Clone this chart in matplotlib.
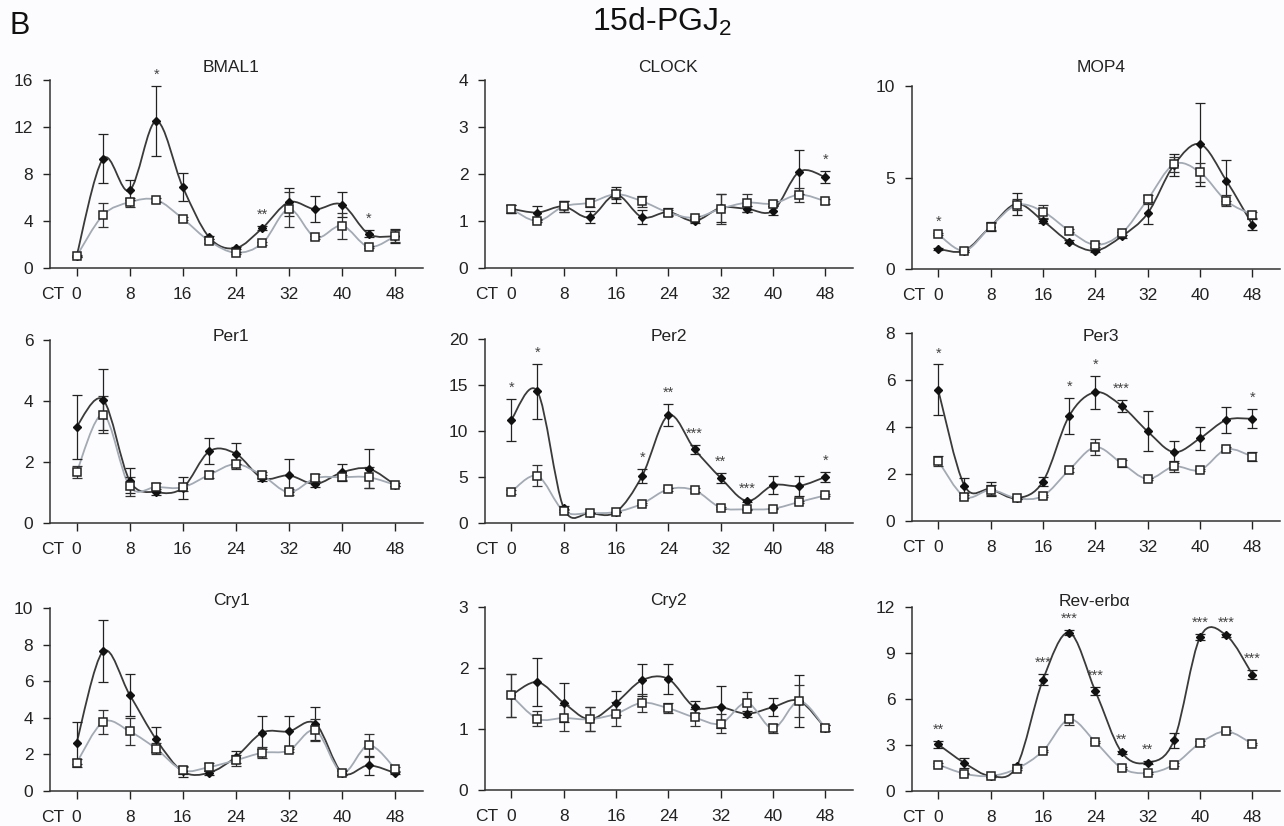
import matplotlib
matplotlib.use("Agg")
import matplotlib.pyplot as plt
from matplotlib.path import Path
from matplotlib.patches import PathPatch

plt.rcParams['font.family'] = ['Liberation Sans', 'DejaVu Sans']
plt.rcParams['mathtext.default'] = 'regular'

ct = [0, 4, 8, 12, 16, 20, 24, 28, 32, 36, 40, 44, 48]

# filled diamonds = 15d-PGJ2, open squares = vehicle
bmal1_pgj = [1.0, 9.3, 6.6, 12.5, 6.9, 2.6, 1.7, 3.4, 5.6, 5.0, 5.4, 2.9, 2.7]
bmal1_pgj_err = [0.1, 2.1, 0.85, 3.0, 1.2, 0.15, 0.1, 0.15, 1.2, 1.1, 1.1, 0.3, 0.6]
bmal1_veh = [1.0, 4.5, 5.6, 5.8, 4.2, 2.3, 1.3, 2.1, 5.0, 2.6, 3.6, 1.8, 2.7]
bmal1_veh_err = [0.05, 1.05, 0.4, 0.2, 0.1, 0.15, 0.1, 0.1, 1.5, 0.1, 1.1, 0.1, 0.5]
bmal1_stars = [(12, '*'), (28, '**'), (44, '*')]

clock_pgj = [1.26, 1.18, 1.31, 1.08, 1.56, 1.08, 1.19, 1.0, 1.28, 1.26, 1.22, 2.05, 1.93]
clock_pgj_err = [0.08, 0.13, 0.12, 0.13, 0.17, 0.15, 0.08, 0.05, 0.3, 0.06, 0.1, 0.47, 0.13]
clock_veh = [1.26, 1.0, 1.31, 1.39, 1.57, 1.42, 1.18, 1.07, 1.26, 1.39, 1.37, 1.56, 1.42]
clock_veh_err = [0.08, 0.03, 0.12, 0.1, 0.1, 0.12, 0.05, 0.03, 0.32, 0.19, 0.05, 0.15, 0.05]
clock_stars = [(48, '*')]

mop4_pgj = [1.1, 1.0, 2.32, 3.56, 2.63, 1.5, 1.0, 1.78, 3.05, 5.68, 6.82, 4.83, 2.41]
mop4_pgj_err = [0.05, 0.05, 0.25, 0.6, 0.1, 0.08, 0.05, 0.1, 0.6, 0.6, 2.27, 1.1, 0.3]
mop4_veh = [1.9, 1.0, 2.32, 3.5, 3.14, 2.09, 1.32, 1.94, 3.81, 5.72, 5.28, 3.72, 2.96]
mop4_veh_err = [0.05, 0.05, 0.2, 0.3, 0.35, 0.08, 0.1, 0.1, 0.25, 0.4, 0.5, 0.3, 0.15]
mop4_stars = [(0, '*')]

per1_pgj = [3.16, 4.04, 1.39, 1.01, 1.15, 2.35, 2.27, 1.47, 1.56, 1.28, 1.66, 1.78, 1.25]
per1_pgj_err = [1.05, 1.0, 0.4, 0.1, 0.35, 0.43, 0.35, 0.1, 0.53, 0.1, 0.28, 0.64, 0.05]
per1_veh = [1.66, 3.55, 1.2, 1.18, 1.17, 1.58, 1.93, 1.56, 1.01, 1.47, 1.5, 1.5, 1.25]
per1_veh_err = [0.2, 0.6, 0.3, 0.12, 0.12, 0.12, 0.15, 0.1, 0.1, 0.15, 0.08, 0.35, 0.05]
per1_stars = []

per2_pgj = [11.2, 14.3, 1.67, 1.09, 1.2, 5.12, 11.7, 8.02, 4.9, 2.4, 4.1, 4.03, 5.01]
per2_pgj_err = [2.3, 3.0, 0.2, 0.05, 0.05, 0.8, 1.2, 0.5, 0.55, 0.1, 1.0, 1.1, 0.5]
per2_veh = [3.38, 5.12, 1.31, 1.09, 1.2, 2.1, 3.67, 3.56, 1.67, 1.49, 1.56, 2.29, 3.01]
per2_veh_err = [0.2, 1.15, 0.1, 0.05, 0.05, 0.1, 0.15, 0.2, 0.1, 0.05, 0.05, 0.1, 0.1]
per2_stars = [(0, '*'), (4, '*'), (20, '*'), (24, '**'), (28, '***'),
              (32, '**'), (36, '***'), (48, '*')]

per3_pgj = [5.58, 1.51, 1.35, 0.97, 1.68, 4.47, 5.48, 4.9, 3.81, 2.93, 3.52, 4.3, 4.35]
per3_pgj_err = [1.08, 0.3, 0.3, 0.05, 0.2, 0.76, 0.7, 0.25, 0.85, 0.48, 0.5, 0.57, 0.4]
per3_veh = [2.56, 1.04, 1.32, 0.97, 1.07, 2.17, 3.14, 2.46, 1.79, 2.32, 2.17, 3.05, 2.74]
per3_veh_err = [0.2, 0.05, 0.2, 0.05, 0.05, 0.1, 0.35, 0.15, 0.05, 0.25, 0.05, 0.08, 0.2]
per3_stars = [(0, '*'), (20, '*'), (24, '*'), (28, '***'), (48, '*')]

cry1_pgj = [2.62, 7.63, 5.26, 2.82, 1.07, 1.0, 1.86, 3.19, 3.26, 3.68, 1.0, 1.4, 0.98]
cry1_pgj_err = [1.15, 1.7, 1.15, 0.67, 0.3, 0.1, 0.33, 0.9, 0.84, 0.9, 0.1, 0.5, 0.05]
cry1_veh = [1.53, 3.77, 3.26, 2.31, 1.13, 1.31, 1.68, 2.09, 2.22, 3.31, 1.0, 2.5, 1.22]
cry1_veh_err = [0.2, 0.64, 0.75, 0.3, 0.2, 0.2, 0.3, 0.3, 0.1, 0.6, 0.15, 0.63, 0.1]
cry1_stars = []

cry2_pgj = [1.55, 1.77, 1.43, 1.16, 1.43, 1.8, 1.82, 1.36, 1.36, 1.25, 1.36, 1.46, 1.01]
cry2_pgj_err = [0.35, 0.4, 0.32, 0.2, 0.2, 0.26, 0.25, 0.1, 0.34, 0.05, 0.15, 0.43, 0.05]
cry2_veh = [1.55, 1.17, 1.18, 1.16, 1.25, 1.43, 1.34, 1.19, 1.09, 1.43, 1.01, 1.46, 1.01]
cry2_veh_err = [0.35, 0.12, 0.22, 0.2, 0.2, 0.15, 0.08, 0.14, 0.15, 0.17, 0.08, 0.26, 0.05]
cry2_stars = []

reverba_pgj = [3.04, 1.83, 0.98, 1.63, 7.26, 10.33, 6.52, 2.54, 1.85, 3.3, 10.04, 10.15, 7.59]
reverba_pgj_err = [0.22, 0.3, 0.05, 0.15, 0.35, 0.15, 0.25, 0.1, 0.1, 0.5, 0.2, 0.1, 0.3]
reverba_veh = [1.72, 1.13, 0.98, 1.46, 2.61, 4.67, 3.2, 1.5, 1.17, 1.72, 3.13, 3.89, 3.07]
reverba_veh_err = [0.08, 0.05, 0.05, 0.1, 0.08, 0.35, 0.08, 0.05, 0.05, 0.08, 0.1, 0.08, 0.08]
reverba_stars = [(0, '**'), (16, '***'), (20, '***'), (24, '***'), (28, '**'),
                 (32, '**'), (40, '***'), (44, '***'), (48, '***')]

genes = ['BMAL1', 'CLOCK', 'MOP4', 'Per1', 'Per2', 'Per3', 'Cry1', 'Cry2', 'Rev-erbα']
ymax = [16, 4, 10, 6, 20, 8, 10, 3, 12]
ystep = [4, 1, 5, 2, 5, 2, 2, 1, 3]

panels = [
    (bmal1_pgj, bmal1_pgj_err, bmal1_veh, bmal1_veh_err, bmal1_stars),
    (clock_pgj, clock_pgj_err, clock_veh, clock_veh_err, clock_stars),
    (mop4_pgj, mop4_pgj_err, mop4_veh, mop4_veh_err, mop4_stars),
    (per1_pgj, per1_pgj_err, per1_veh, per1_veh_err, per1_stars),
    (per2_pgj, per2_pgj_err, per2_veh, per2_veh_err, per2_stars),
    (per3_pgj, per3_pgj_err, per3_veh, per3_veh_err, per3_stars),
    (cry1_pgj, cry1_pgj_err, cry1_veh, cry1_veh_err, cry1_stars),
    (cry2_pgj, cry2_pgj_err, cry2_veh, cry2_veh_err, cry2_stars),
    (reverba_pgj, reverba_pgj_err, reverba_veh, reverba_veh_err, reverba_stars),
]

W, H = 1284, 826
col_left = [50, 485, 912]
col_right = [423, 853, 1280]
# per panel top / bottom in pixels
tops = [80, 80, 86, 340, 339, 333, 608, 607, 607]
bottoms = [268, 268, 269, 523, 523, 521, 791, 790, 791]
title_y = [67, 67, 67, 337, 337, 337, 601, 601, 601]
title_x = [231, 668, 1101, 231, 669, 1101, 231, 668, 1095]

DARK = '#3a3a3a'
LIGHT = '#a3aab3'
FS = 12.5


def smooth_path(x, y):
    # Catmull-Rom style bezier through the points (like "smoothed line")
    n = len(x)
    verts = [(x[0], y[0])]
    codes = [Path.MOVETO]
    for i in range(n - 1):
        a = max(i - 1, 0)
        b = min(i + 2, n - 1)
        c1 = (x[i] + (x[i + 1] - x[a]) / 6, y[i] + (y[i + 1] - y[a]) / 6)
        c2 = (x[i + 1] - (x[b] - x[i]) / 6, y[i + 1] - (y[b] - y[i]) / 6)
        verts += [c1, c2, (x[i + 1], y[i + 1])]
        codes += [Path.CURVE4] * 3
    return Path(verts, codes)


fig = plt.figure(figsize=(W / 100, H / 100), dpi=100, facecolor='#fcfcfe')

for k, (pgj, pgj_err, veh, veh_err, stars) in enumerate(panels):
    c = k % 3
    l = col_left[c] / W
    b = 1 - bottoms[k] / H
    w = (col_right[c] - col_left[c]) / W
    h = (bottoms[k] - tops[k]) / H
    ax = fig.add_axes([l, b, w, h])
    ax.set_facecolor('none')

    ax.add_patch(PathPatch(smooth_path(ct, pgj), fill=False, edgecolor=DARK, lw=1.3, zorder=2))
    ax.add_patch(PathPatch(smooth_path(ct, veh), fill=False, edgecolor=LIGHT, lw=1.3, zorder=2))

    ax.errorbar(ct, pgj, yerr=pgj_err, fmt='none', ecolor='#222222', elinewidth=0.9,
                capsize=3.5, capthick=0.9, zorder=3)
    ax.errorbar(ct, veh, yerr=veh_err, fmt='none', ecolor='#333333', elinewidth=0.9,
                capsize=3.5, capthick=0.9, zorder=3)
    ax.plot(ct, pgj, 'D', ms=4.2, color='#111111', zorder=4, clip_on=False)
    ax.plot(ct, veh, 's', ms=5.5, mfc='white', mec='#222222', mew=1.1, zorder=5, clip_on=False)

    for x_s, lab in stars:
        i = ct.index(x_s)
        top = max(pgj[i] + pgj_err[i], veh[i] + veh_err[i])
        ax.annotate(lab, (x_s, top), xytext=(0, 3), textcoords='offset points',
                    ha='center', va='bottom', fontsize=10.5, color='#444444',
                    annotation_clip=False)

    ax.set_xlim(-4, 52.2)
    ax.set_ylim(0, ymax[k])
    ax.set_xticks([0, 8, 16, 24, 32, 40, 48])
    ax.set_yticks(range(0, ymax[k] + 1, ystep[k]))
    ax.tick_params(axis='x', length=6, width=1, pad=8, labelsize=FS, colors='#222222')
    ax.tick_params(axis='y', length=5, width=1, pad=7, labelsize=FS, colors='#222222')
    for s in ['top', 'right']:
        ax.spines[s].set_visible(False)
    for s in ['left', 'bottom']:
        ax.spines[s].set_linewidth(1.1)
        ax.spines[s].set_color('#333333')

    ax.annotate('CT', xy=(0, 0), xycoords=('data', 'axes fraction'),
                xytext=(-9, -14), textcoords='offset points',
                ha='right', va='top', fontsize=FS, color='#222222')

    fig.text(title_x[k] / W, 1 - title_y[k] / H, genes[k], ha='center', va='center',
             fontsize=FS, color='#222222')

fig.text(662 / W, 1 - 31 / H, '15d-PGJ$_2$', ha='center', va='baseline', fontsize=23,
         color='#111111')
fig.text(10 / W, 1 - 34 / H, 'B', ha='left', va='baseline', fontsize=22, color='#111111')

fig.savefig('out.png', dpi=100, facecolor=fig.get_facecolor())
